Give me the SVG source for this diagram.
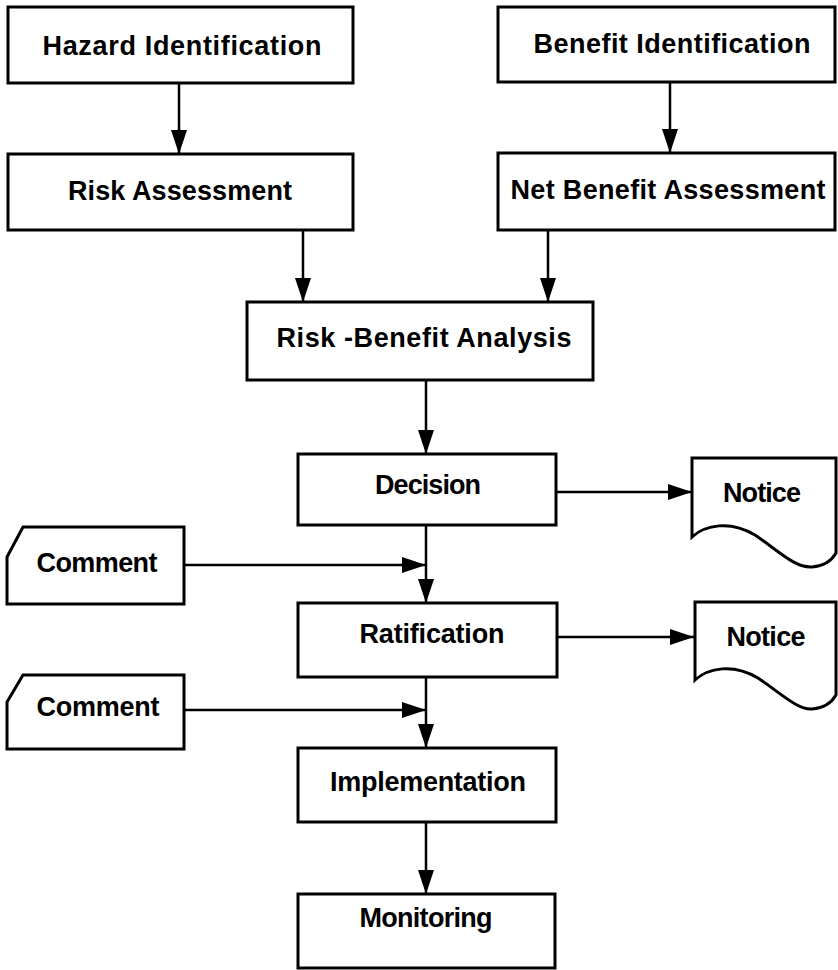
<svg xmlns="http://www.w3.org/2000/svg" width="838" height="970" viewBox="0 0 838 970">
<style>
.box{fill:#fff;stroke:#000;stroke-width:3;stroke-linejoin:miter}
.lbl{font-family:"Liberation Sans",Arial,sans-serif;font-weight:bold;font-size:27px;fill:#000}
.con{stroke:#000;stroke-width:2.5;fill:none}
</style>
<defs>
<marker id="ah" markerUnits="userSpaceOnUse" markerWidth="26" markerHeight="18" refX="24" refY="8" orient="auto">
<path d="M0,0 L24,8 L0,16 Z" fill="#000"/>
</marker>
</defs>
<rect width="838" height="970" fill="#fff"/>
<g id="connectors">
<line class="con" x1="179" y1="83" x2="179" y2="154" marker-end="url(#ah)"/>
<line class="con" x1="670" y1="82" x2="670" y2="153" marker-end="url(#ah)"/>
<line class="con" x1="303" y1="230" x2="303" y2="302" marker-end="url(#ah)"/>
<line class="con" x1="548" y1="230" x2="548" y2="302" marker-end="url(#ah)"/>
<line class="con" x1="426" y1="380" x2="426" y2="454" marker-end="url(#ah)"/>
<line class="con" x1="556" y1="492" x2="692" y2="492" marker-end="url(#ah)"/>
<line class="con" x1="426" y1="525" x2="426" y2="603" marker-end="url(#ah)"/>
<line class="con" x1="184" y1="565" x2="426" y2="565" marker-end="url(#ah)"/>
<line class="con" x1="557" y1="637" x2="694" y2="637" marker-end="url(#ah)"/>
<line class="con" x1="426" y1="677" x2="426" y2="748" marker-end="url(#ah)"/>
<line class="con" x1="184" y1="710" x2="426" y2="710" marker-end="url(#ah)"/>
<line class="con" x1="426" y1="822" x2="426" y2="894" marker-end="url(#ah)"/>
</g>
<g id="hazard">
<rect class="box" x="8" y="7" width="345" height="76"/>
<text class="lbl" x="182" y="55" text-anchor="middle" textLength="279" lengthAdjust="spacing">Hazard Identification</text>
</g>
<g id="risk">
<rect class="box" x="8" y="154" width="345" height="76"/>
<text class="lbl" x="180" y="200" text-anchor="middle" textLength="224" lengthAdjust="spacing">Risk Assessment</text>
</g>
<g id="benefit">
<rect class="box" x="498" y="7" width="337" height="75"/>
<text class="lbl" x="672" y="53" text-anchor="middle" textLength="277" lengthAdjust="spacing">Benefit Identification</text>
</g>
<g id="netbenefit">
<rect class="box" x="498" y="153" width="337" height="77"/>
<text class="lbl" x="668" y="199" text-anchor="middle" textLength="315" lengthAdjust="spacing">Net Benefit Assessment</text>
</g>
<g id="rba">
<rect class="box" x="247" y="302" width="346" height="78"/>
<text class="lbl" x="424" y="347" text-anchor="middle" textLength="295" lengthAdjust="spacing">Risk -Benefit Analysis</text>
</g>
<g id="decision">
<rect class="box" x="298" y="454" width="258" height="71"/>
<text class="lbl" x="428" y="494" text-anchor="middle" textLength="106" lengthAdjust="spacing">Decision</text>
</g>
<g id="notice1">
<path class="box" d="M692,537 L692,458 L836,458 L836,553 C832,560 825,566 812,567 C795,568 780,552 755,535 C730,520 705,525 692,537 Z"/>
<text class="lbl" x="762" y="502" text-anchor="middle" textLength="78" lengthAdjust="spacing">Notice</text>
</g>
<g id="comment1">
<path class="box" d="M7,557 L23,527 L184,527 L184,604 L7,604 Z"/>
<text class="lbl" x="97" y="572" text-anchor="middle" textLength="121" lengthAdjust="spacing">Comment</text>
</g>
<g id="ratification">
<rect class="box" x="298" y="603" width="259" height="74"/>
<text class="lbl" x="432" y="643" text-anchor="middle" textLength="145" lengthAdjust="spacing">Ratification</text>
</g>
<g id="notice2">
<path class="box" d="M695,680 L695,602 L836,602 L836,695 C832,702 825,708 812,709 C798,710 783,695 758,678 C733,663 708,668 695,680 Z"/>
<text class="lbl" x="766" y="646" text-anchor="middle" textLength="79" lengthAdjust="spacing">Notice</text>
</g>
<g id="comment2">
<path class="box" d="M7,702 L23,675 L184,675 L184,749 L7,749 Z"/>
<text class="lbl" x="98" y="716" text-anchor="middle" textLength="123" lengthAdjust="spacing">Comment</text>
</g>
<g id="implementation">
<rect class="box" x="298" y="748" width="258" height="74"/>
<text class="lbl" x="428" y="791" text-anchor="middle" textLength="196" lengthAdjust="spacing">Implementation</text>
</g>
<g id="monitoring">
<rect class="box" x="298" y="894" width="257" height="74"/>
<text class="lbl" x="426" y="927" text-anchor="middle" textLength="133" lengthAdjust="spacing">Monitoring</text>
</g>
</svg>
